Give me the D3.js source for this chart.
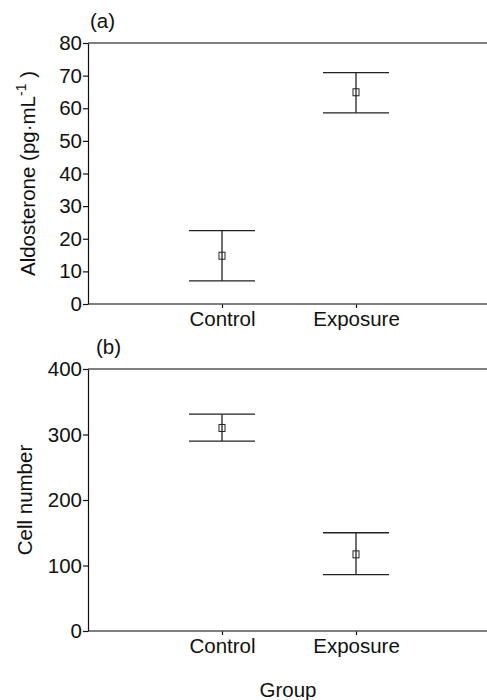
<!DOCTYPE html>
<html>
<head>
<meta charset="utf-8">
<script src="https://cdn.jsdelivr.net/npm/d3@7"></script>
<style>
  body { margin: 0; background: #fff; }
  svg text { font-family: "Liberation Sans", Arial, sans-serif; fill: #111; }
</style>
</head>
<body>
<div id="main"></div>
<script>
// data
var groups = ["Control", "Exposure"];

var aldoMean = [14.8, 64.9];
var aldoUpper = [22.5, 70.9];
var aldoLower = [7.1, 58.6];
var aldoTicks = [0, 10, 20, 30, 40, 50, 60, 70, 80];

var cellMean = [310, 117];
var cellUpper = [331, 150];
var cellLower = [290, 86];
var cellTicks = [0, 100, 200, 300, 400];

var width = 487, height = 700,
    fontSize = 20.5;

var svg = d3.select("#main").append("svg")
    .attr("width", width)
    .attr("height", height);

var x = d3.scalePoint()
    .domain(groups)
    .range([222, 356]);

function panel(opts) {
    var y = d3.scaleLinear()
        .domain([0, opts.max])
        .range([opts.bottom, opts.top]);

    var g = svg.append("g");

    // top frame line
    g.append("line")
        .attr("x1", 88).attr("x2", width)
        .attr("y1", opts.top).attr("y2", opts.top)
        .attr("stroke", "#555").attr("stroke-width", 1.6);

    // x axis
    var xa = g.append("g")
        .attr("transform", "translate(0," + opts.bottom + ")")
        .call(d3.axisBottom(x).tickSize(4).tickPadding(3));
    xa.select(".domain").remove();
    xa.selectAll(".tick line").attr("stroke", "#111").attr("stroke-width", 1.2);
    xa.selectAll(".tick text").attr("font-size", fontSize);
    g.append("line")
        .attr("x1", 88).attr("x2", width)
        .attr("y1", opts.bottom).attr("y2", opts.bottom)
        .attr("stroke", "#555").attr("stroke-width", 1.6);

    // y axis
    var ya = g.append("g")
        .attr("transform", "translate(88,0)")
        .call(d3.axisLeft(y).tickValues(opts.ticks).tickSize(5).tickPadding(1).tickSizeOuter(0));
    ya.select(".domain").attr("stroke", "#111").attr("stroke-width", 1.2);
    ya.selectAll(".tick line").attr("stroke", "#111").attr("stroke-width", 1.2);
    ya.selectAll(".tick text").attr("font-size", fontSize);

    // error bars
    var bars = g.selectAll(".bar")
        .data(groups)
        .enter().append("g")
        .attr("class", "bar");

    bars.append("line")
        .attr("x1", function(d) { return x(d); })
        .attr("x2", function(d) { return x(d); })
        .attr("y1", function(d, i) { return y(opts.upper[i]); })
        .attr("y2", function(d, i) { return y(opts.lower[i]); })
        .attr("stroke", "#222").attr("stroke-width", 1.3);

    [opts.upper, opts.lower].forEach(function(vals) {
        bars.append("line")
            .attr("x1", function(d) { return x(d) - 33; })
            .attr("x2", function(d) { return x(d) + 33; })
            .attr("y1", function(d, i) { return y(vals[i]); })
            .attr("y2", function(d, i) { return y(vals[i]); })
            .attr("stroke", "#222").attr("stroke-width", 1.3);
    });

    bars.append("rect")
        .attr("x", function(d) { return x(d) - 3; })
        .attr("y", function(d, i) { return y(opts.mean[i]) - 3.5; })
        .attr("width", 6).attr("height", 7)
        .attr("fill", "none")
        .attr("stroke", "#222").attr("stroke-width", 1);

    // panel letter
    g.append("text")
        .attr("x", opts.letterX).attr("y", opts.top - 15)
        .attr("font-size", fontSize)
        .text(opts.letter);

    // y title
    var t = g.append("text")
        .attr("transform", "translate(" + opts.titleX + "," + ((opts.top + opts.bottom) / 2) + ") rotate(-90)")
        .attr("text-anchor", "middle")
        .attr("font-size", fontSize);
    opts.title(t);

    return y;
}

panel({
    top: 43, bottom: 304, max: 80, ticks: aldoTicks,
    mean: aldoMean, upper: aldoUpper, lower: aldoLower,
    letter: "(a)", letterX: 90, titleX: 35,
    title: function(t) {
        t.append("tspan").text("Aldosterone (pg\u00b7mL");
        t.append("tspan").attr("dy", -9).attr("font-size", 14).text("-1");
        t.append("tspan").attr("dy", 9).text(" )");
    }
});

panel({
    top: 369, bottom: 631, max: 400, ticks: cellTicks,
    mean: cellMean, upper: cellUpper, lower: cellLower,
    letter: "(b)", letterX: 96, titleX: 32,
    title: function(t) { t.text("Cell number"); }
});

svg.append("text")
    .attr("x", 288).attr("y", 697)
    .attr("text-anchor", "middle")
    .attr("font-size", fontSize)
    .text("Group");
</script>
</body>
</html>
